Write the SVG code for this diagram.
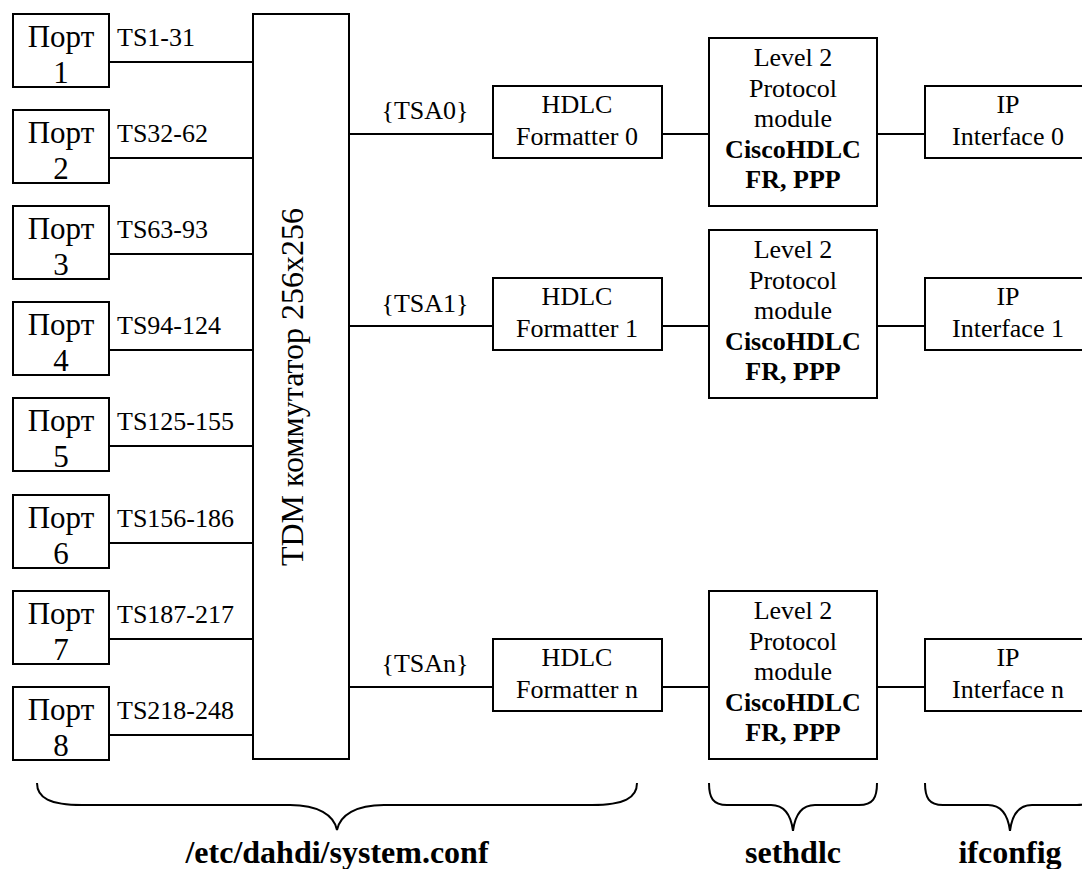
<svg xmlns="http://www.w3.org/2000/svg" width="1082" height="869" viewBox="0 0 1082 869">
  <style>
    .box { fill: #fff; stroke: #000; stroke-width: 2; }
    .wire { fill: none; stroke: #000; stroke-width: 2; }
    .brace { fill: none; stroke: #000; stroke-width: 2; }
  </style>
  <rect width="1082" height="869" fill="#fff"/>

  <!-- connectors -->
  <g id="connectors">
    <path class="wire" d="M109,62H253M109,158H253M109,254H253M109,350H253M109,446H253M109,543H253M109,639H253M109,735H253"/>
    <path class="wire" d="M349,134H493M662,134H709M877,134H925"/>
    <path class="wire" d="M349,326H493M662,326H709M877,326H925"/>
    <path class="wire" d="M349,687H493M662,687H709M877,687H925"/>
  </g>

  <g font-family="Liberation Serif" fill="#000">
  <!-- ports: box, name, time-slot range -->
  <g id="port1"><rect class="box" x="13" y="14" width="96" height="73"/><text font-size="31" text-anchor="middle" x="61" y="47">Порт</text><text font-size="31" text-anchor="middle" x="61" y="83">1</text><text font-size="26" x="117" y="46">TS1-31</text></g>
  <g id="port2"><rect class="box" x="13" y="110" width="96" height="73"/><text font-size="31" text-anchor="middle" x="61" y="143">Порт</text><text font-size="31" text-anchor="middle" x="61" y="179">2</text><text font-size="26" x="117" y="142">TS32-62</text></g>
  <g id="port3"><rect class="box" x="13" y="206" width="96" height="73"/><text font-size="31" text-anchor="middle" x="61" y="239">Порт</text><text font-size="31" text-anchor="middle" x="61" y="275">3</text><text font-size="26" x="117" y="238">TS63-93</text></g>
  <g id="port4"><rect class="box" x="13" y="302" width="96" height="73"/><text font-size="31" text-anchor="middle" x="61" y="335">Порт</text><text font-size="31" text-anchor="middle" x="61" y="371">4</text><text font-size="26" x="117" y="334">TS94-124</text></g>
  <g id="port5"><rect class="box" x="13" y="398" width="96" height="73"/><text font-size="31" text-anchor="middle" x="61" y="431">Порт</text><text font-size="31" text-anchor="middle" x="61" y="467">5</text><text font-size="26" x="117" y="430">TS125-155</text></g>
  <g id="port6"><rect class="box" x="13" y="495" width="96" height="73"/><text font-size="31" text-anchor="middle" x="61" y="528">Порт</text><text font-size="31" text-anchor="middle" x="61" y="564">6</text><text font-size="26" x="117" y="527">TS156-186</text></g>
  <g id="port7"><rect class="box" x="13" y="591" width="96" height="73"/><text font-size="31" text-anchor="middle" x="61" y="624">Порт</text><text font-size="31" text-anchor="middle" x="61" y="660">7</text><text font-size="26" x="117" y="623">TS187-217</text></g>
  <g id="port8"><rect class="box" x="13" y="687" width="96" height="73"/><text font-size="31" text-anchor="middle" x="61" y="720">Порт</text><text font-size="31" text-anchor="middle" x="61" y="756">8</text><text font-size="26" x="117" y="719">TS218-248</text></g>

  <!-- TDM switch -->
  <g id="tdm">
    <rect class="box" x="253" y="14" width="96" height="745"/>
    <text x="0" y="0" font-size="32" text-anchor="middle" transform="translate(303,387) rotate(-90)">TDM коммутатор 256x256</text>
  </g>

  <g font-size="26" text-anchor="middle">
  <!-- channel 0 -->
  <g id="tsa0"><text x="425" y="119">{TSA0}</text></g>
  <g id="hdlc0"><rect class="box" x="493" y="86" width="169" height="72"/><text x="577" y="113">HDLC</text><text x="577" y="145">Formatter 0</text></g>
  <g id="proto0"><rect class="box" x="709" y="38" width="168" height="168"/>
    <text x="793" y="66">Level 2</text><text x="793" y="97">Protocol</text><text x="793" y="127">module</text>
    <text font-weight="bold" x="793" y="158">CiscoHDLC</text><text font-weight="bold" x="793" y="188">FR, PPP</text></g>
  <g id="ip0"><rect class="box" x="925" y="86" width="166" height="72"/><text x="1008" y="113">IP</text><text x="1008" y="145">Interface 0</text></g>

  <!-- channel 1 -->
  <g id="tsa1"><text x="425" y="312">{TSA1}</text></g>
  <g id="hdlc1"><rect class="box" x="493" y="278" width="169" height="72"/><text x="577" y="305">HDLC</text><text x="577" y="337">Formatter 1</text></g>
  <g id="proto1"><rect class="box" x="709" y="230" width="168" height="168"/>
    <text x="793" y="258">Level 2</text><text x="793" y="289">Protocol</text><text x="793" y="319">module</text>
    <text font-weight="bold" x="793" y="350">CiscoHDLC</text><text font-weight="bold" x="793" y="380">FR, PPP</text></g>
  <g id="ip1"><rect class="box" x="925" y="278" width="166" height="72"/><text x="1008" y="305">IP</text><text x="1008" y="337">Interface 1</text></g>

  <!-- channel n -->
  <g id="tsan"><text x="425" y="672">{TSAn}</text></g>
  <g id="hdlcn"><rect class="box" x="493" y="639" width="169" height="72"/><text x="577" y="666">HDLC</text><text x="577" y="698">Formatter n</text></g>
  <g id="proton"><rect class="box" x="709" y="591" width="168" height="168"/>
    <text x="793" y="619">Level 2</text><text x="793" y="650">Protocol</text><text x="793" y="680">module</text>
    <text font-weight="bold" x="793" y="711">CiscoHDLC</text><text font-weight="bold" x="793" y="741">FR, PPP</text></g>
  <g id="ipn"><rect class="box" x="925" y="639" width="166" height="72"/><text x="1008" y="666">IP</text><text x="1008" y="698">Interface n</text></g>
  </g>

  <!-- configuration braces -->
  <g font-size="32" font-weight="bold" text-anchor="middle">
  <g id="cfg-system">
    <path class="brace" d="M37,783C37,798 50,805 82,805L290,805C318,805 334,815 337,830C340,815 356,805 384,805L592,805C624,805 637,798 637,783"/>
    <text x="337" y="863">/etc/dahdi/system.conf</text>
  </g>
  <g id="cfg-sethdlc">
    <path class="brace" d="M709,783C709,798 713,805 727,805L771,805C785,805 791,815 793,831C795,815 801,805 815,805L859,805C873,805 877,798 877,783"/>
    <text x="793" y="863">sethdlc</text>
  </g>
  <g id="cfg-ifconfig">
    <path class="brace" d="M925,783C925,798 929,805 943,805L988,805C1002,805 1008,815 1010,831C1012,815 1018,805 1032,805L1077,805C1091,805 1095,798 1095,783"/>
    <text x="1010" y="863">ifconfig</text>
  </g>
  </g>
  </g>
</svg>
